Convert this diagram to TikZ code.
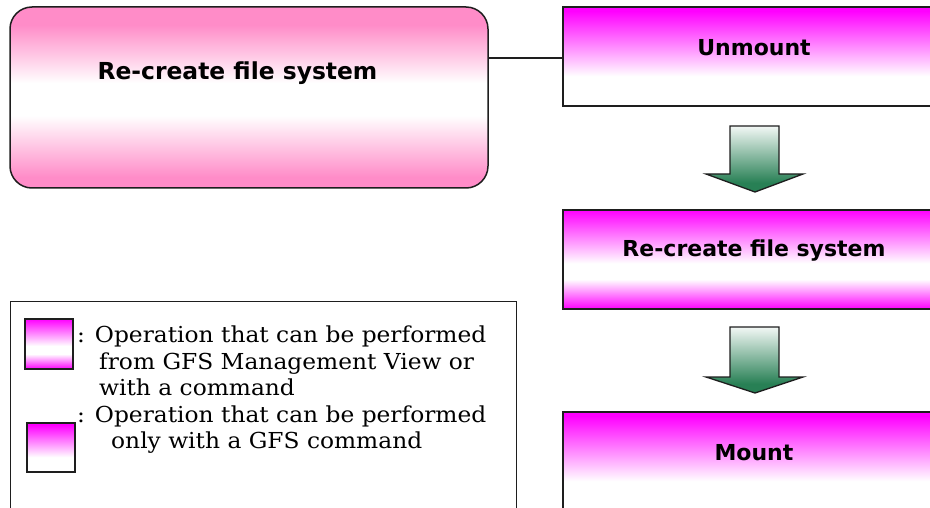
\documentclass[tikz,border=0pt]{standalone}
\usepackage{fontspec}
\setmainfont{DejaVu Serif}
\newfontfamily\bsans{DejaVu Sans}
\usetikzlibrary{calc}
\definecolor{pk}{RGB}{255,140,200}
\definecolor{grn}{RGB}{40,128,85}
\definecolor{edge}{RGB}{30,30,30}
\pgfdeclareverticalshading{magtop}{100bp}{color(0bp)=(white); color(40bp)=(white); color(73bp)=(magenta); color(100bp)=(magenta)}
\pgfdeclareverticalshading{magmid}{100bp}{color(0bp)=(magenta); color(25bp)=(magenta); color(40bp)=(white); color(48bp)=(white); color(75bp)=(magenta); color(100bp)=(magenta)}
\pgfdeclareverticalshading{pinkmid}{100bp}{color(0bp)=(pk); color(28bp)=(pk); color(45bp)=(white); color(54bp)=(white); color(70bp)=(pk); color(100bp)=(pk)}
\pgfdeclareverticalshading{grnarrow}{100bp}{color(0bp)=(grn); color(32bp)=(grn); color(75bp)=(white!94!grn); color(100bp)=(white!94!grn)}
\newcommand\lgd[1]{\scalebox{1.06}[1]{#1}}
\begin{document}
\begin{tikzpicture}[x=1pt,y=-1pt,
  opbox/.style={draw=edge, line width=1.5pt, inner sep=0pt, outer sep=0pt, rectangle},
  btext/.style={font=\bsans\bfseries\fontsize{22}{26}\selectfont, inner sep=0pt},
  ltext/.style={font=\fontsize{22}{26}\selectfont, inner sep=0pt, anchor=base west},
  blockarrow/.style={shading=grnarrow, draw=edge, line width=1.3pt, line join=miter}]
\useasboundingbox (0,0) rectangle (930,508);
\clip (0,0) rectangle (930,508);

% left rounded box
\node[opbox, rounded corners=22pt, shading=pinkmid, minimum width=478pt, minimum height=181pt] (lb) at (249,97.5) {};
\node[btext, font=\bsans\bfseries\fontsize{23.4}{28}\selectfont] (lbt) at (237.5,73) {Re-create file system};

% right column
\node[opbox, shading=magtop, minimum width=382pt, minimum height=99pt] (u) at (754,56.5) {};
\node[btext] (ut) at ($(u.north)+(0,41)$) {Unmount};

\node[opbox, shading=magmid, minimum width=382pt, minimum height=99pt] (r) at (754,259.5) {};
\node[btext] (rt) at ($(r.north)+(0,41)$) {Re-create file system};

\node[opbox, shading=magtop, minimum width=382pt, minimum height=99pt] (m) at (754,461.5) {};
\node[btext] (mt) at ($(m.north)+(0,41)$) {Mount};

% connector
\draw[edge, line width=1.3pt] ($(lb.east |- u.west)+(0,1.5)$) -- ($(u.west)+(0,1.5)$);

% block arrows
\path[blockarrow] ($(u.south)+(-24,20)$) -- ++(49,0) -- ++(0,48) -- ++(24,0)
   -- ($(u.south)+(1,86)$) -- ($(u.south)+(-48,68)$) -- ++(24,0) -- cycle;
\path[blockarrow] ($(r.south)+(-24,18)$) -- ++(49,0) -- ++(0,50) -- ++(24,0)
   -- ($(r.south)+(1,84)$) -- ($(r.south)+(-48,68)$) -- ++(24,0) -- cycle;

% legend
\node[draw=edge, line width=1.3pt, inner sep=0pt, minimum width=506pt, minimum height=230pt, anchor=north west] (lg) at (10,301) {};
\node[opbox, line width=1.2pt, shading=magmid, minimum width=48pt, minimum height=50pt] (i1) at (49,344) {};
\node[opbox, line width=1.2pt, shading=magtop, minimum width=48pt, minimum height=49pt] (i2) at (51,447.5) {};
\node[ltext] (l1) at (77,342) {\lgd{: Operation that can be performed}};
\node[ltext] (l2) at (99,369) {\lgd{from GFS Management View or}};
\node[ltext] (l3) at (99,395.5) {\lgd{with a command}};
\node[ltext] (l4) at (77,422) {\lgd{: Operation that can be performed}};
\node[ltext] (l5) at (111,448.5) {\lgd{only with a GFS command}};
\end{tikzpicture}
\end{document}
